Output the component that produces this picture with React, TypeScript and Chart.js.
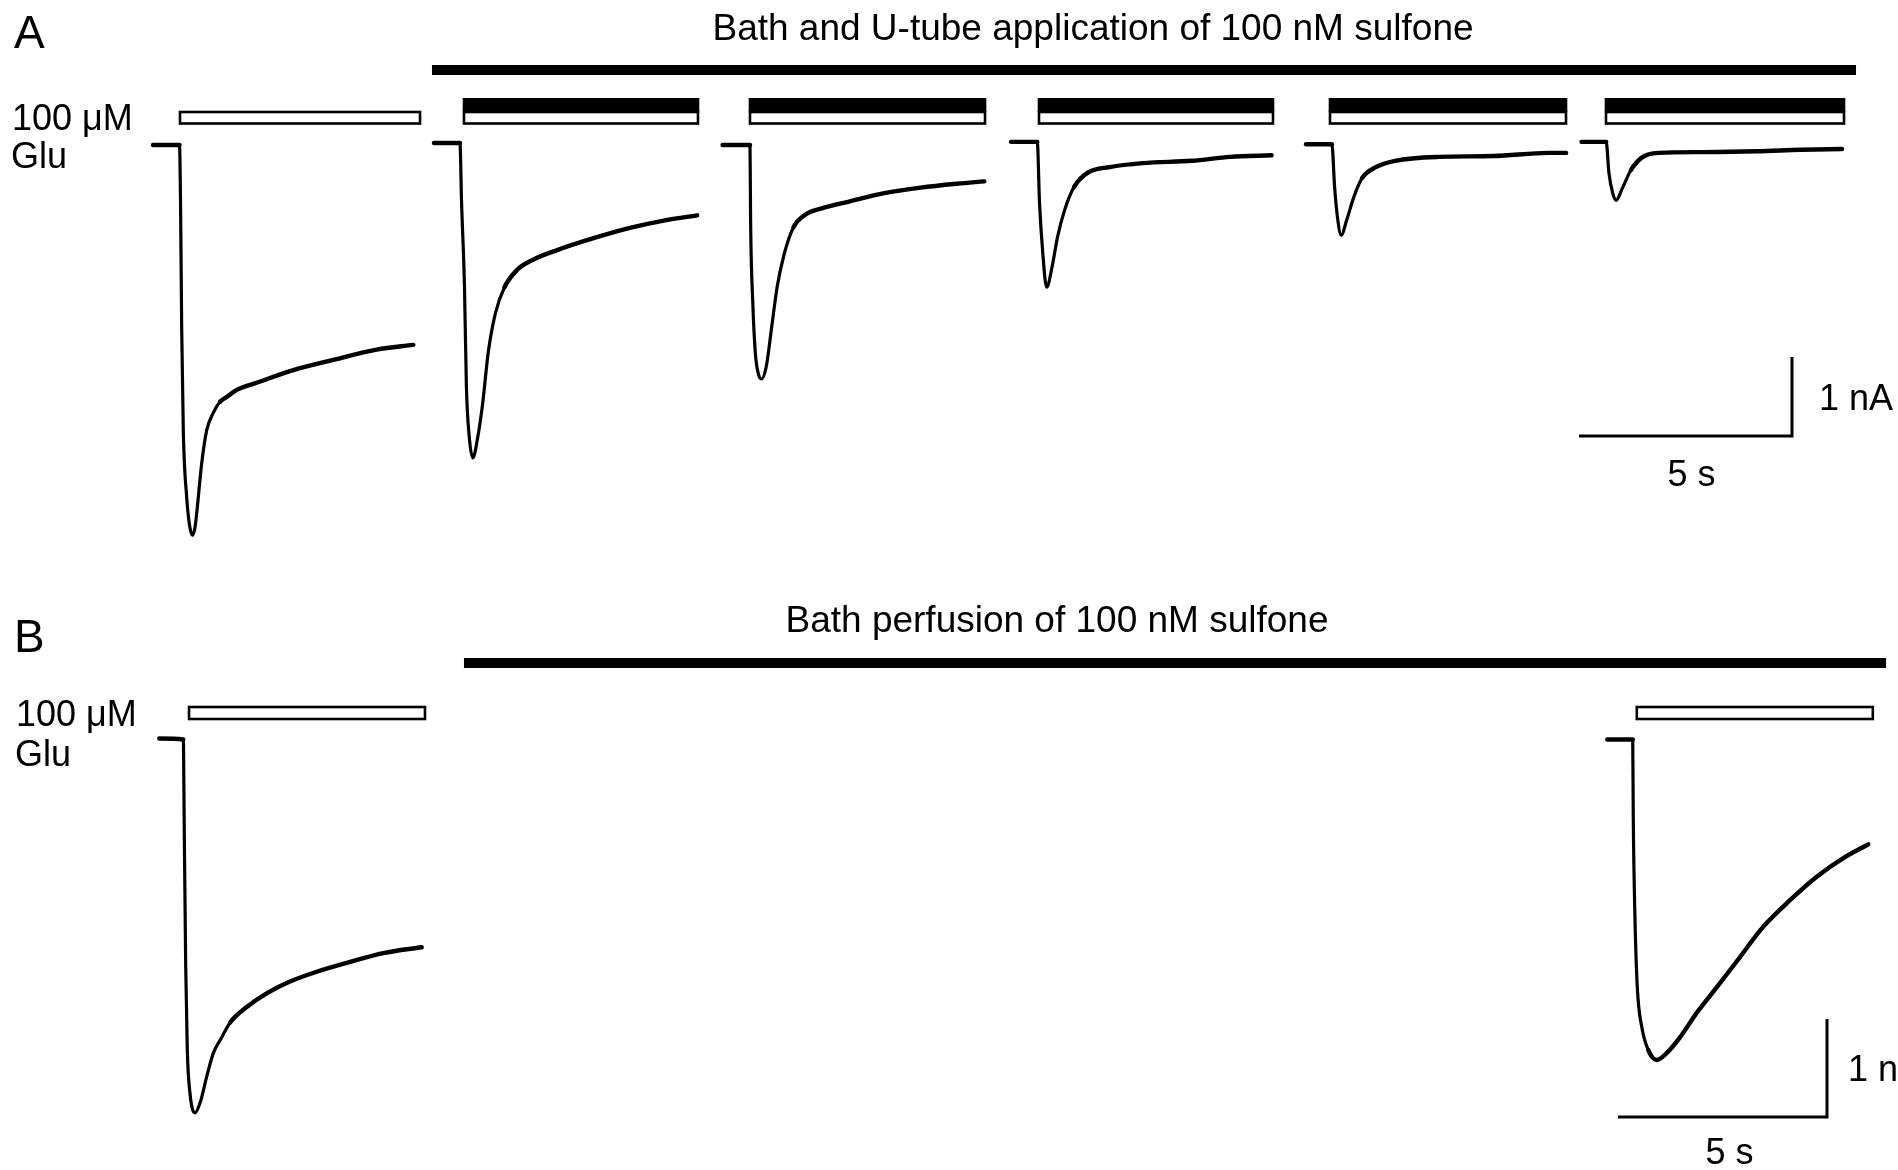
import React, { useEffect, useRef } from "react";
import { Chart, registerables } from "chart.js";

Chart.register(...registerables);

// ---------- DATA ----------
// Each sweep: [time from sweep start (s), current (nA)]
// Panel A: Bath and U-tube application of 100 nM sulfone
const traceA1: [number, number][] = [
  [0, 0], [0.622, 0], [0.646, -0.7], [0.674, -2.34], [0.711, -3.61], [0.791, -4.46],
  [0.857, -4.81], [0.923, -4.94], [0.986, -4.84], [1.026, -4.66], [1.143, -4.03],
  [1.261, -3.61], [1.415, -3.39], [1.573, -3.25], [1.73, -3.19], [1.965, -3.1],
  [2.434, -3.01], [3.293, -2.85], [4.232, -2.72], [5.251, -2.59], [6.11, -2.53],
];
const traceA2: [number, number][] = [
  [0, 0.025], [0.61, 0.025], [0.646, -0.7], [0.716, -1.8], [0.761, -3.06], [0.829, -3.7],
  [0.913, -3.96], [1.017, -3.73], [1.143, -3.27], [1.272, -2.63], [1.441, -2.13],
  [1.655, -1.8], [1.953, -1.58], [2.296, -1.46], [2.892, -1.33], [3.746, -1.18],
  [4.599, -1.05], [5.453, -0.95], [6.178, -0.89],
];
const traceA3: [number, number][] = [
  [0, 0], [0.643, 0], [0.657, -0.95], [0.709, -2.0], [0.768, -2.63], [0.836, -2.89],
  [0.913, -2.96], [1.023, -2.81], [1.153, -2.3], [1.279, -1.8], [1.451, -1.37],
  [1.664, -1.04], [1.92, -0.89], [2.347, -0.8], [2.944, -0.72], [3.798, -0.61],
  [4.65, -0.54], [5.505, -0.49], [6.143, -0.46],
];
const traceA4: [number, number][] = [
  [0, 0.04], [0.617, 0.04], [0.669, -0.73], [0.746, -1.37], [0.836, -1.8], [0.965, -1.54],
  [1.094, -1.16], [1.261, -0.82], [1.481, -0.53], [1.803, -0.35], [2.317, -0.28],
  [3.089, -0.23], [4.249, -0.2], [5.15, -0.15], [6.115, -0.13],
];
const traceA5: [number, number][] = [
  [0, 0.01], [0.608, 0.01], [0.671, -0.53], [0.737, -0.91], [0.826, -1.14], [0.955, -0.95],
  [1.122, -0.66], [1.315, -0.42], [1.638, -0.28], [2.089, -0.2], [3.117, -0.15],
  [4.406, -0.14], [5.692, -0.1], [6.106, -0.1],
];
const traceA6: [number, number][] = [
  [0, 0.04], [0.58, 0.04], [0.643, -0.35], [0.732, -0.61], [0.81, -0.7], [0.965, -0.54],
  [1.157, -0.32], [1.415, -0.16], [1.803, -0.1], [2.831, -0.09], [4.12, -0.08],
  [5.15, -0.06], [6.115, -0.05],
];
// Sweep start times on the panel A time axis (s)
const sweepStartsA = [0, 6.596, 13.371, 20.141, 27.066, 33.533];
// 100 µM Glu applications (s)
const gluBarsA: [number, number][] = [
  [0.634, 6.268], [7.3, 12.793], [14.014, 19.531], [20.798, 26.291], [27.629, 33.169], [34.108, 39.695],
];
// U-tube sulfone applications (s)
const uTubeBarsA: [number, number][] = [
  [7.3, 12.793], [14.014, 19.531], [20.798, 26.291], [27.629, 33.169], [34.108, 39.695],
];
// Bath sulfone (s)
const bathBarA: [number, number] = [6.549, 39.977];
// Scale bar corner [time (s), current (nA)]
const scaleCornerA: [number, number] = [38.474, -3.684];

// Panel B: Bath perfusion of 100 nM sulfone
const traceB1: [number, number][] = [
  [0, 0], [0.574, -0.01], [0.598, -0.96], [0.632, -2.33], [0.67, -3.18], [0.734, -3.62],
  [0.854, -3.82], [0.974, -3.72], [1.134, -3.45], [1.292, -3.21], [1.493, -3.05],
  [1.691, -2.9], [2.091, -2.74], [2.569, -2.6], [3.127, -2.48], [3.766, -2.38],
  [4.562, -2.28], [5.359, -2.19], [6.278, -2.13],
];
const traceB2: [number, number][] = [
  [0, -0.01], [0.608, -0.01], [0.622, -0.83], [0.663, -1.85], [0.718, -2.54], [0.823, -2.94],
  [0.981, -3.18], [1.182, -3.28], [1.421, -3.21], [1.739, -3.05], [2.139, -2.8],
  [2.617, -2.54], [3.175, -2.23], [3.732, -1.92], [4.371, -1.65], [5.01, -1.41],
  [5.646, -1.22], [6.244, -1.08],
];
const sweepStartsB = [0, 34.641];
const gluBarsB: [number, number][] = [[0.711, 6.356], [35.347, 40.993]];
const bathBarB: [number, number] = [7.289, 41.31];
const scaleCornerB: [number, number] = [39.897, -3.862];

// Scale bar sizes and labels
const scaleTime = 5; // s
const scaleCurrent = 1; // nA
const scaleLabels = ["1 nA", "5 s"];
const panelLabels = ["A", "B"];
const panelTitles = ["Bath and U-tube application of 100 nM sulfone", "Bath perfusion of 100 nM sulfone"];
const gluLabel = ["100 μM", "Glu"];

// ---------- LAYOUT ----------
const W = 1898;
const H = 1170;
const FONT = '"Liberation Sans", Arial, Helvetica, sans-serif';

const tracesA = [traceA1, traceA2, traceA3, traceA4, traceA5, traceA6];
const tracesB = [traceB1, traceB2];

function makeDataset(trace: [number, number][], start: number, xId: string, yId: string) {
  return {
    data: trace.map(([t, i]) => ({ x: start + t, y: i })),
    xAxisID: xId,
    yAxisID: yId,
    borderColor: "#000",
    borderWidth: 3.2,
    pointRadius: 0,
    fill: false,
    cubicInterpolationMode: "monotone" as const,
    borderCapStyle: "round" as const,
    borderJoinStyle: "round" as const,
    segment: {
      borderWidth: (ctx: any) => {
        const dx = Math.abs(ctx.p1.x - ctx.p0.x);
        const dy = Math.abs(ctx.p1.y - ctx.p0.y);
        return dy < 1.6 * dx ? 4.4 : 3.2;
      },
    },
  };
}

const annotationPlugin = {
  id: "ephysAnnotations",
  afterDatasetsDraw(chart: any) {
    const { ctx, scales } = chart;
    const xA = scales.xA, yA = scales.yA, xB = scales.xB, yB = scales.yB;
    ctx.save();
    ctx.fillStyle = "#000";
    ctx.strokeStyle = "#000";

    const solidBar = (x0: number, x1: number, yTop: number, yBot: number) => {
      ctx.fillStyle = "#000";
      ctx.fillRect(x0, yTop, x1 - x0, yBot - yTop);
    };
    const openBar = (x0: number, x1: number, yTop: number, yBot: number) => {
      ctx.fillStyle = "#fff";
      ctx.fillRect(x0, yTop, x1 - x0, yBot - yTop);
      ctx.lineWidth = 2.6;
      ctx.strokeStyle = "#000";
      ctx.strokeRect(x0, yTop, x1 - x0, yBot - yTop);
    };

    // Panel A bars
    solidBar(xA.getPixelForValue(bathBarA[0]), xA.getPixelForValue(bathBarA[1]), 65, 75);
    uTubeBarsA.forEach(([a, b]) => solidBar(xA.getPixelForValue(a) - 1.3, xA.getPixelForValue(b) + 1.3, 98, 112));
    gluBarsA.forEach(([a, b]) => openBar(xA.getPixelForValue(a), xA.getPixelForValue(b), 112, 123.5));

    // Panel B bars
    solidBar(xB.getPixelForValue(bathBarB[0]), xB.getPixelForValue(bathBarB[1]), 658, 668);
    gluBarsB.forEach(([a, b]) => openBar(xB.getPixelForValue(a), xB.getPixelForValue(b), 707, 719));

    // Scale bars
    const drawScale = (xs: any, ys: any, corner: [number, number]) => {
      const cx = xs.getPixelForValue(corner[0]);
      const cy = ys.getPixelForValue(corner[1]);
      const lx = xs.getPixelForValue(corner[0] - scaleTime);
      const ty = ys.getPixelForValue(corner[1] + scaleCurrent);
      ctx.strokeStyle = "#000";
      ctx.lineWidth = 3;
      ctx.lineCap = "butt";
      ctx.beginPath();
      ctx.moveTo(lx, cy);
      ctx.lineTo(cx, cy);
      ctx.lineTo(cx, ty);
      ctx.stroke();
      return { cx, cy, lx, ty };
    };
    const sA = drawScale(xA, yA, scaleCornerA);
    const sB = drawScale(xB, yB, scaleCornerB);

    // Text
    ctx.fillStyle = "#000";
    ctx.textBaseline = "alphabetic";
    ctx.font = `46px ${FONT}`;
    ctx.textAlign = "left";
    ctx.fillText(panelLabels[0], 14, 48);
    ctx.fillText(panelLabels[1], 14, 652);

    ctx.font = `37px ${FONT}`;
    ctx.textAlign = "center";
    ctx.fillText(panelTitles[0], 1093, 40);
    ctx.fillText(panelTitles[1], 1057, 632);

    ctx.font = `36px ${FONT}`;
    ctx.textAlign = "left";
    ctx.fillText(gluLabel[0], 12, 130);
    ctx.fillText(gluLabel[1], 11, 168);
    ctx.fillText(gluLabel[0], 16, 726);
    ctx.fillText(gluLabel[1], 15, 766);

    // scale labels
    ctx.fillText(scaleLabels[0], sA.cx + 27, (sA.cy + sA.ty) / 2 + 13);
    ctx.textAlign = "center";
    ctx.fillText(scaleLabels[1], (sA.lx + sA.cx) / 2 + 6, sA.cy + 50);
    ctx.textAlign = "left";
    ctx.fillText(scaleLabels[0], sB.cx + 21, (sB.cy + sB.ty) / 2 + 13);
    ctx.textAlign = "center";
    ctx.fillText(scaleLabels[1], (sB.lx + sB.cx) / 2 + 7, sB.cy + 47);

    ctx.restore();
  },
};

export default function App() {
  const canvasRef = useRef<HTMLCanvasElement | null>(null);

  useEffect(() => {
    const canvas = canvasRef.current;
    if (!canvas) return;
    // Pixel anchors for the hidden axes (layout)
    const aZeroX = 153, aPxPerS = 42.6, aZeroY = 145, aPxPerNA = 79;
    const bZeroX = 159.3, bPxPerS = 41.8, bZeroY = 738.5, bPxPerNA = 98;

    const datasets = [
      ...tracesA.map((tr, k) => makeDataset(tr, sweepStartsA[k], "xA", "yA")),
      ...tracesB.map((tr, k) => makeDataset(tr, sweepStartsB[k], "xB", "yB")),
    ];

    const chart = new Chart(canvas, {
      type: "line",
      data: { datasets: datasets as any },
      options: {
        animation: false,
        responsive: false,
        devicePixelRatio: 1,
        layout: { padding: 0 },
        plugins: { legend: { display: false }, tooltip: { enabled: false }, title: { display: false } },
        events: [],
        scales: {
          xA: { type: "linear", axis: "x", display: false, min: -aZeroX / aPxPerS, max: (W - aZeroX) / aPxPerS },
          yA: { type: "linear", axis: "y", display: false, min: (aZeroY - H) / aPxPerNA, max: aZeroY / aPxPerNA },
          xB: { type: "linear", axis: "x", display: false, min: -bZeroX / bPxPerS, max: (W - bZeroX) / bPxPerS },
          yB: { type: "linear", axis: "y", display: false, min: (bZeroY - H) / bPxPerNA, max: bZeroY / bPxPerNA },
        } as any,
      },
      plugins: [annotationPlugin],
    });
    return () => chart.destroy();
  }, []);

  return (
    <div style={{ position: "absolute", left: 0, top: 0, width: W, height: H, background: "#fff" }}>
      <canvas ref={canvasRef} width={W} height={H} style={{ display: "block", width: W, height: H }} />
    </div>
  );
}
